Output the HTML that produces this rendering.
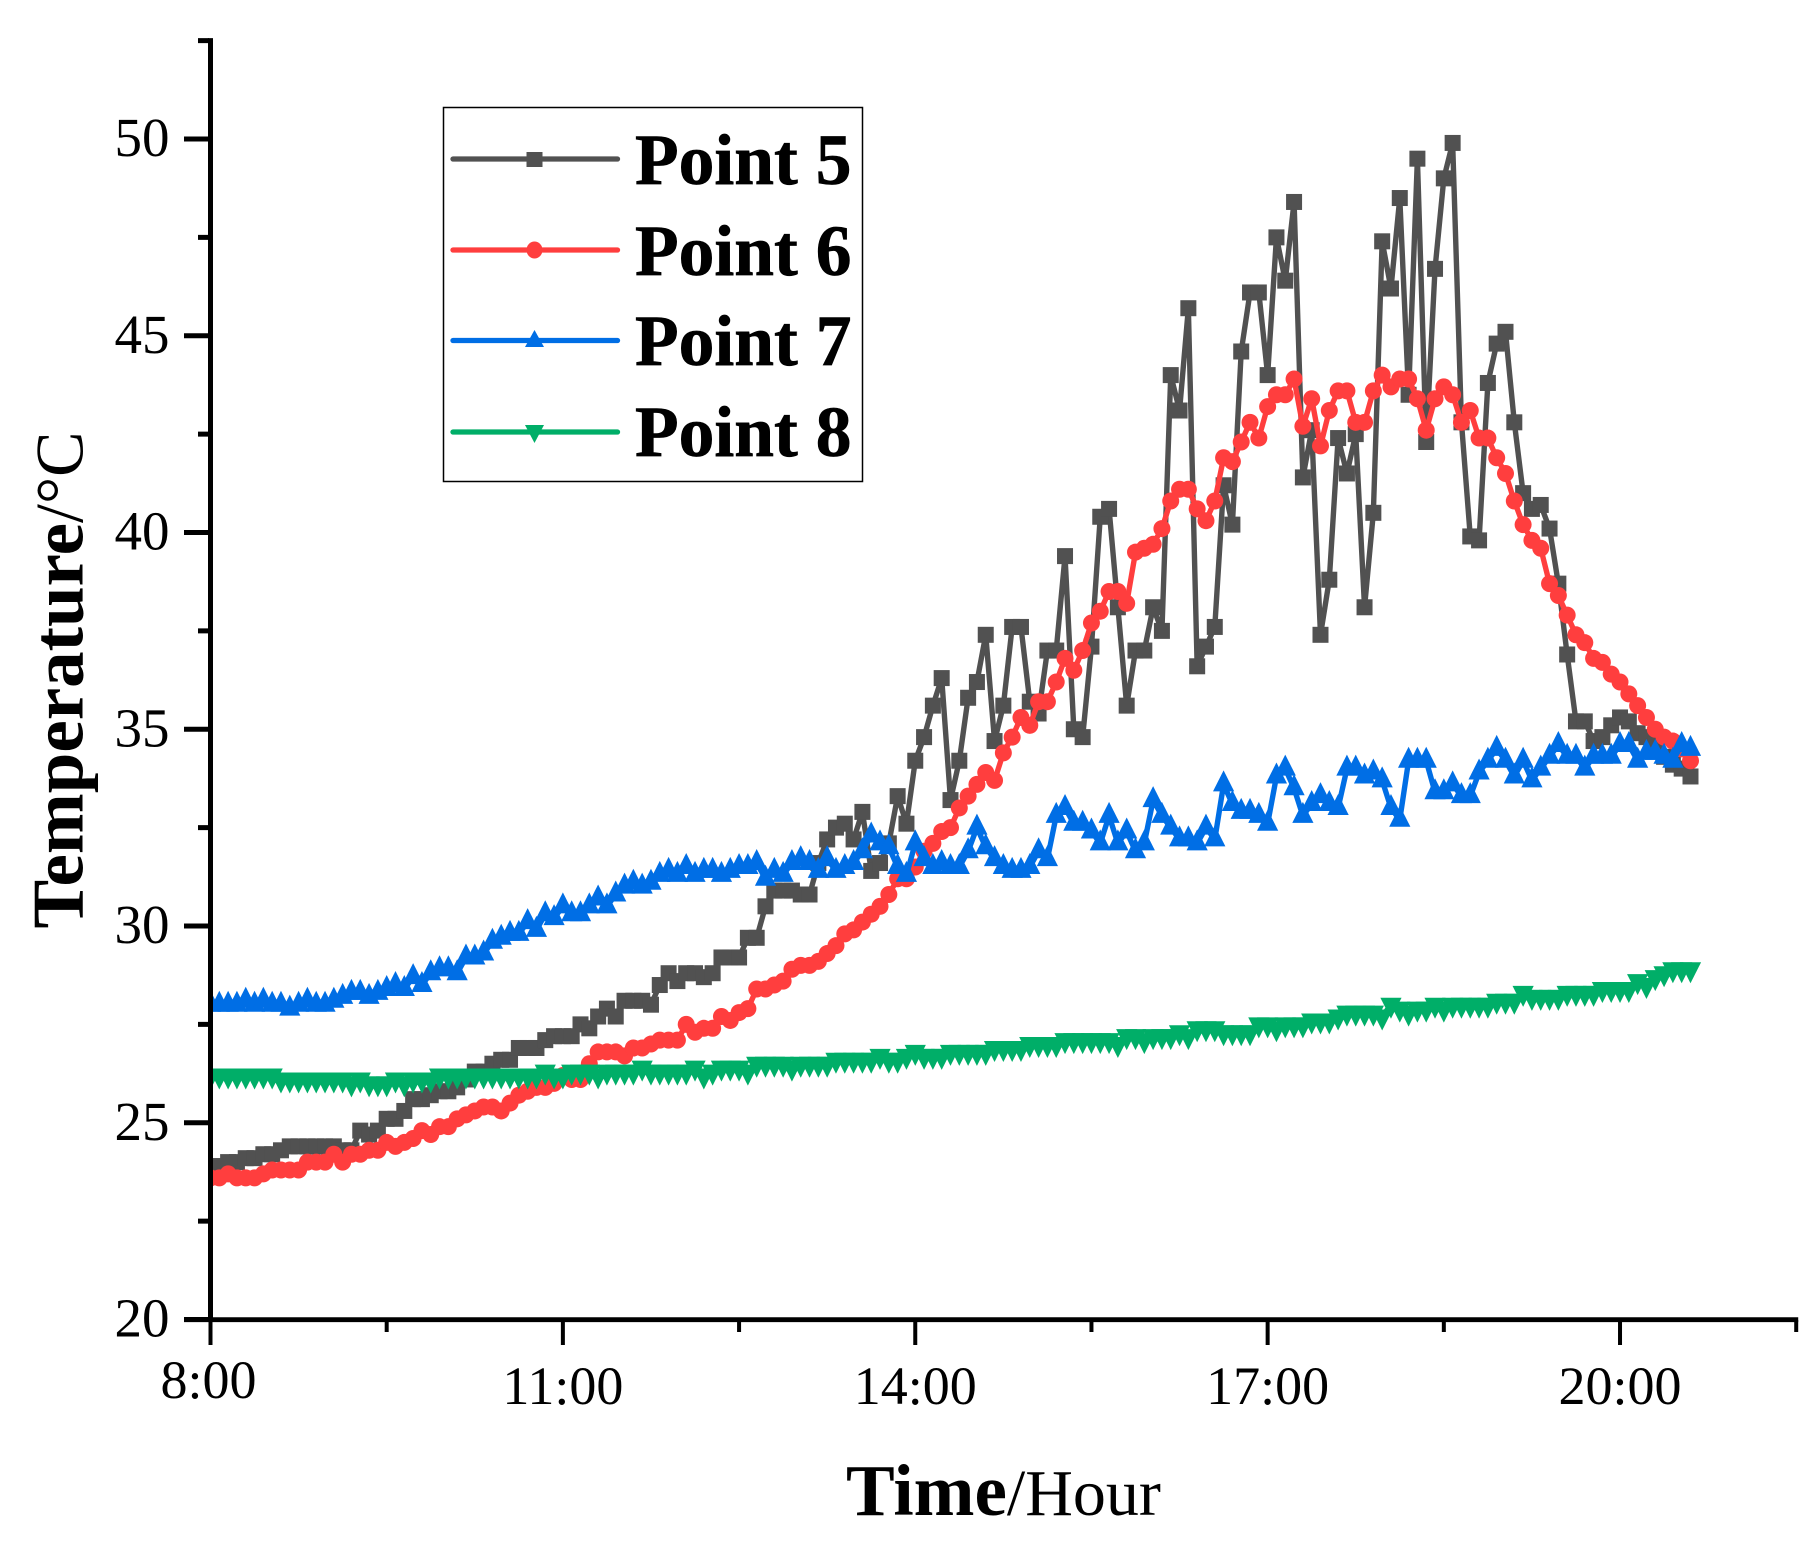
<!DOCTYPE html>
<html lang="en">
<head>
<meta charset="utf-8">
<title>Temperature by measuring point</title>
<style>
html,body{margin:0;padding:0;background:#fff;}
svg{display:block;}
text{font-family:"Liberation Serif",serif;fill:#000;}
.tick-label{font-size:55px;}
.x-tick-label{font-size:54px;}
.legend-label{font-size:71.5px;font-weight:bold;stroke:#000;stroke-width:.7px;}
.title-bold{font-size:73px;font-weight:bold;}
.title-regular{font-size:66px;font-weight:normal;}
</style>
</head>
<body>
<svg id="chart" xmlns="http://www.w3.org/2000/svg" width="1820" height="1545" viewBox="0 0 1820 1545">
  <defs>
    <clipPath id="plot-clip"><rect x="212.5" y="20" width="1600" height="1297"></rect></clipPath>
  </defs>
  <rect x="0" y="0" width="1820" height="1545" fill="#fff"></rect>
  <g id="series-layer" clip-path="url(#plot-clip)"></g>
  <g id="axis-layer"></g>

  <text transform="translate(82.5,431.5) rotate(-90)" text-anchor="end"><tspan class="title-bold">Temperature</tspan><tspan class="title-regular" style="font-size:68px">/°C</tspan></text>
  <text x="846" y="1515"><tspan class="title-bold">Time</tspan><tspan class="title-regular">/Hour</tspan></text>

  <g>
    <rect x="443.5" y="107.5" width="419" height="374" fill="#fff" stroke="#000" stroke-width="1.5"></rect>

    <g>
      <line x1="453" x2="617.5" y1="159" y2="159" stroke="#515151" stroke-width="5.3" stroke-linecap="round"></line>
      <rect x="526.5" y="152" width="16" height="15" fill="#515151"></rect>
      <text class="legend-label" x="635" y="184">Point 5</text>
    </g>
    <g>
      <line x1="453" x2="617.5" y1="250" y2="250" stroke="#FF3E3E" stroke-width="5.3" stroke-linecap="round"></line>
      <ellipse cx="534.5" cy="250" rx="8" ry="8.5" fill="#FF3E3E"></ellipse>
      <text class="legend-label" x="635" y="275">Point 6</text>
    </g>
    <g>
      <line x1="453" x2="617.5" y1="340.5" y2="340.5" stroke="#006EE5" stroke-width="5.3" stroke-linecap="round"></line>
      <polygon points="534.5,330 544,347 525,347" fill="#006EE5"></polygon>
      <text class="legend-label" x="635" y="365">Point 7</text>
    </g>
    <g>
      <line x1="453" x2="617.5" y1="432" y2="432" stroke="#00AE68" stroke-width="5.3" stroke-linecap="round"></line>
      <polygon points="525,425 544,425 534.5,443" fill="#00AE68"></polygon>
      <text class="legend-label" x="635" y="456">Point 8</text>
    </g>
  </g>
</svg>

<script>
// Chart data. One reading every 4.5 minutes from 8:00.
const sampleIntervalHours = 0.075;
const startHour = 8;

const yMajorTicks = [20, 25, 30, 35, 40, 45, 50];
const yMinorTicks = [22.5, 27.5, 32.5, 37.5, 42.5, 47.5, 52.5];
const xMajorTicks = [8, 11, 14, 17, 20];
const xMinorTicks = [9.5, 12.5, 15.5, 18.5, 21.5];
const xTickLabels = ["8:00", "11:00", "14:00", "17:00", "20:00"];

const point5 = [
23.8,23.9,24.0,24.0,24.1,24.1,24.2,24.2,24.3,24.4,
24.4,24.4,24.4,24.4,24.4,24.3,24.3,24.8,24.7,24.8,
25.1,25.1,25.3,25.6,25.6,25.7,25.8,25.8,25.9,26.1,
26.3,26.3,26.5,26.6,26.6,26.9,26.9,26.9,27.1,27.2,
27.2,27.2,27.5,27.4,27.7,27.9,27.7,28.1,28.1,28.1,
28.0,28.5,28.8,28.6,28.8,28.8,28.7,28.8,29.2,29.2,
29.2,29.7,29.7,30.5,30.9,30.9,30.9,30.8,30.8,31.6,
32.2,32.5,32.6,32.2,32.9,31.4,31.6,32.1,33.3,32.6,
34.2,34.8,35.6,36.3,33.2,34.2,35.8,36.2,37.4,34.7,
35.6,37.6,37.6,35.7,35.4,37.0,37.0,39.4,35.0,34.8,
37.1,40.4,40.6,38.1,35.6,37.0,37.0,38.1,37.5,44.0,
43.1,45.7,36.6,37.1,37.6,41.2,40.2,44.6,46.1,46.1,
44.0,47.5,46.4,48.4,41.4,42.6,37.4,38.8,42.4,41.5,
42.5,38.1,40.5,47.4,46.2,48.5,43.5,49.5,42.3,46.7,
49.0,49.9,42.8,39.9,39.8,43.8,44.8,45.1,42.8,41.0,
40.6,40.7,40.1,38.7,36.9,35.2,35.2,34.7,34.8,35.1,
35.3,35.2,34.9,34.8,34.6,34.3,34.1,34.0,33.8
];

const point6 = [
23.6,23.6,23.7,23.6,23.6,23.6,23.7,23.8,23.8,23.8,
23.8,24.0,24.0,24.0,24.2,24.0,24.2,24.2,24.3,24.3,
24.5,24.4,24.5,24.6,24.8,24.7,24.9,24.9,25.1,25.2,
25.3,25.4,25.4,25.3,25.5,25.7,25.8,25.9,25.9,26.0,
26.2,26.1,26.1,26.5,26.8,26.8,26.8,26.7,26.9,26.9,
27.0,27.1,27.1,27.1,27.5,27.3,27.4,27.4,27.7,27.6,
27.8,27.9,28.4,28.4,28.5,28.6,28.9,29.0,29.0,29.1,
29.3,29.5,29.8,29.9,30.1,30.3,30.5,30.8,31.2,31.2,
31.5,31.9,32.1,32.4,32.5,33.0,33.3,33.6,33.9,33.7,
34.4,34.8,35.3,35.1,35.7,35.7,36.2,36.8,36.5,37.0,
37.7,38.0,38.5,38.5,38.2,39.5,39.6,39.7,40.1,40.8,
41.1,41.1,40.6,40.3,40.8,41.9,41.8,42.3,42.8,42.4,
43.2,43.5,43.5,43.9,42.7,43.4,42.2,43.1,43.6,43.6,
42.8,42.8,43.6,44.0,43.7,43.9,43.9,43.4,42.6,43.4,
43.7,43.5,42.8,43.1,42.4,42.4,41.9,41.5,40.8,40.2,
39.8,39.6,38.7,38.4,37.9,37.4,37.2,36.8,36.7,36.4,
36.2,35.9,35.6,35.3,35.0,34.8,34.7,34.5,34.2
];

const point7 = [
28.0,28.0,28.0,28.0,28.1,28.0,28.1,28.0,28.0,27.9,
28.0,28.1,28.0,28.0,28.1,28.2,28.3,28.3,28.2,28.3,
28.4,28.5,28.4,28.7,28.5,28.8,28.9,28.9,28.8,29.2,
29.2,29.3,29.6,29.7,29.8,29.8,30.1,29.9,30.3,30.2,
30.5,30.3,30.3,30.5,30.7,30.5,30.8,31.0,31.1,31.0,
31.1,31.3,31.4,31.3,31.5,31.3,31.4,31.4,31.3,31.4,
31.5,31.5,31.6,31.2,31.4,31.3,31.6,31.7,31.6,31.4,
31.7,31.4,31.5,31.6,31.9,32.3,32.1,32.0,31.5,31.3,
32.1,31.7,31.5,31.6,31.5,31.5,31.9,32.5,32.0,31.7,
31.5,31.4,31.4,31.5,31.9,31.7,32.8,33.0,32.6,32.6,
32.4,32.1,32.8,32.1,32.4,31.9,32.1,33.2,32.8,32.5,
32.2,32.2,32.1,32.5,32.2,33.6,33.1,32.9,32.9,32.8,
32.6,33.8,34.0,33.5,32.8,33.1,33.3,33.1,33.0,34.0,
34.0,33.8,33.9,33.7,33.0,32.7,34.2,34.2,34.2,33.4,
33.4,33.6,33.3,33.3,33.9,34.2,34.5,34.2,33.8,34.2,
33.7,34.0,34.3,34.6,34.3,34.3,34.0,34.3,34.3,34.3,
34.6,34.6,34.2,34.4,34.4,34.3,34.2,34.6,34.5
];

const point8 = [
26.2,26.2,26.2,26.2,26.2,26.2,26.2,26.2,26.1,26.1,
26.1,26.1,26.1,26.1,26.1,26.1,26.0,26.1,26.0,26.0,
26.0,26.1,26.0,26.1,26.1,26.1,26.2,26.2,26.2,26.2,
26.2,26.2,26.2,26.2,26.2,26.2,26.2,26.2,26.3,26.2,
26.2,26.3,26.3,26.3,26.2,26.3,26.3,26.3,26.3,26.4,
26.3,26.3,26.3,26.3,26.3,26.4,26.2,26.3,26.4,26.4,
26.4,26.3,26.5,26.5,26.5,26.5,26.4,26.5,26.5,26.5,
26.5,26.6,26.6,26.6,26.6,26.6,26.7,26.6,26.6,26.7,
26.8,26.7,26.7,26.7,26.8,26.8,26.8,26.8,26.8,26.9,
26.9,26.9,26.9,27.0,27.0,27.0,27.0,27.1,27.1,27.1,
27.1,27.1,27.1,27.0,27.2,27.2,27.1,27.2,27.2,27.2,
27.3,27.2,27.4,27.4,27.4,27.3,27.3,27.3,27.3,27.5,
27.5,27.4,27.5,27.5,27.5,27.6,27.6,27.6,27.7,27.8,
27.8,27.8,27.8,27.7,28.0,27.9,27.8,27.9,27.9,28.0,
27.9,28.0,28.0,28.0,28.0,28.0,28.1,28.1,28.1,28.3,
28.2,28.2,28.2,28.2,28.3,28.3,28.3,28.3,28.4,28.4,
28.4,28.4,28.6,28.5,28.7,28.8,28.9,28.9,28.9
];

const SVG_NS = "http://www.w3.org/2000/svg";
const seriesLayer = document.getElementById("series-layer");
const axisLayer = document.getElementById("axis-layer");

function xScale(hour) { return 210.5 + (hour - 8) * 117.46; }
function yScale(temp) { return 1319.5 - (temp - 20) * 39.35; }
function sampleHour(i) { return startHour + i * sampleIntervalHours; }

function makeEl(tag, attrs, parent) {
  const el = document.createElementNS(SVG_NS, tag);
  for (const k in attrs) el.setAttribute(k, attrs[k]);
  parent.appendChild(el);
  return el;
}

function drawMarker(kind, x, y, color, parent, seriesName) {
  let el;
  if (kind === "square") {
    el = makeEl("rect", { x: x - 8, y: y - 8, width: 16, height: 16, fill: color }, parent);
  } else if (kind === "circle") {
    el = makeEl("circle", { cx: x, cy: y, r: 8.5, fill: color }, parent);
  } else if (kind === "up") {
    el = makeEl("polygon", { points: (x) + "," + (y - 14) + " " + (x + 10.6) + "," + (y + 7) + " " + (x - 10.6) + "," + (y + 7), fill: color }, parent);
  } else {
    el = makeEl("polygon", { points: (x - 10.6) + "," + (y - 7) + " " + (x + 10.6) + "," + (y - 7) + " " + (x) + "," + (y + 14), fill: color }, parent);
  }
  
  
}

function drawSeries(values, color, kind, seriesName) {
  const group = makeEl("g", {}, seriesLayer);
  
  
  const pts = values.map(function (v, i) { return xScale(sampleHour(i)).toFixed(2) + "," + yScale(v).toFixed(2); }).join(" ");
  const line = makeEl("polyline", { points: pts, fill: "none", stroke: color, "stroke-width": 5.4, "stroke-linejoin": "round" }, group);
  
  
  values.forEach(function (v, i) {
    drawMarker(kind, xScale(sampleHour(i)), yScale(v), color, group, seriesName);
  });
}

drawSeries(point5, "#515151", "square", "point-5");
drawSeries(point6, "#FF3E3E", "circle", "point-6");
drawSeries(point7, "#006EE5", "up", "point-7");
drawSeries(point8, "#00AE68", "down", "point-8");

// Axes
const yAxisLine = makeEl("line", { x1: 210.5, x2: 210.5, y1: yScale(52.5) - 2.5, y2: yScale(20), stroke: "#000", "stroke-width": 5 }, axisLayer);


const xAxisLine = makeEl("line", { x1: 184, x2: xScale(21.5) + 2, y1: 1319.7, y2: 1319.7, stroke: "#000", "stroke-width": 4.8 }, axisLayer);



yMajorTicks.forEach(function (v) {
  const y = yScale(v);
  const tick = makeEl("line", { x1: 184, x2: 209, y1: y, y2: y, stroke: "#000", "stroke-width": 5 }, axisLayer);
  
  
  const label = makeEl("text", { x: 169.5, y: y + 17, "text-anchor": "end", "class": "tick-label" }, axisLayer);
  label.textContent = String(v);
  
  
});
yMinorTicks.forEach(function (v) {
  const y = yScale(v);
  const tick = makeEl("line", { x1: 198, x2: 209, y1: y, y2: y, stroke: "#000", "stroke-width": 5 }, axisLayer);
  
  
});
xMajorTicks.forEach(function (h, i) {
  const x = xScale(h);
  const tick = makeEl("line", { x1: x, x2: x, y1: 1320, y2: 1345, stroke: "#000", "stroke-width": 4 }, axisLayer);
  
  
  const label = makeEl("text", { x: i === 0 ? x - 2 : x, y: i === 0 ? 1398 : 1404, "text-anchor": "middle", "class": "x-tick-label" }, axisLayer);
  label.textContent = xTickLabels[i];
  
  
});
xMinorTicks.forEach(function (h) {
  const x = xScale(h);
  const tick = makeEl("line", { x1: x, x2: x, y1: 1320, y2: 1332, stroke: "#000", "stroke-width": 4 }, axisLayer);
  
  
});
</script>
</body>
</html>
